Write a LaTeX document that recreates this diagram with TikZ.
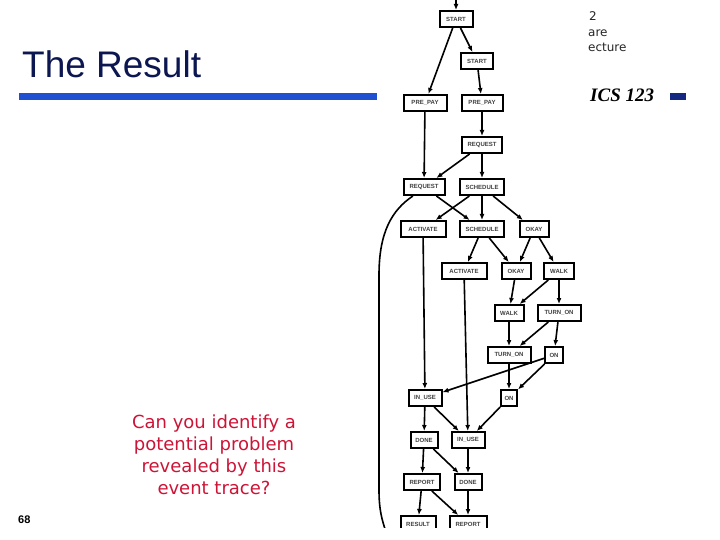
\documentclass[tikz,border=0pt]{standalone}
\usepackage{fontspec}
\setmainfont{DejaVu Sans}
\newfontfamily\libsans{Liberation Sans}
\newfontfamily\libserif{Liberation Serif}
\usetikzlibrary{arrows.meta}
\definecolor{titlenavy}{RGB}{12,22,80}
\definecolor{barblue}{RGB}{32,80,210}
\definecolor{smallblue}{RGB}{20,40,130}
\definecolor{crim}{RGB}{205,20,55}
\begin{document}
\begin{tikzpicture}[x=1pt,y=-1pt,
  gnode/.style={draw=black, line width=2pt, fill=white, minimum height=16pt, inner sep=0pt,
    font=\libsans\bfseries\fontsize{6}{7}\selectfont, text=black!75},
  garrow/.style={line width=1.6pt, -{Latex[length=6pt,width=5pt]}},
  gline/.style={line width=1.6pt}]
\useasboundingbox (0,0) rectangle (720,540);
\fill[white] (0,0) rectangle (720,540);

% slide texts
\node[anchor=base west, font=\libsans\fontsize{37}{40}\selectfont, text=titlenavy, inner sep=0pt] (title) at (22,78) {The Result};
\fill[barblue] (19,93) rectangle (377,100);
\node[anchor=base west, font=\libserif\bfseries\itshape\fontsize{19}{20}\selectfont, inner sep=0pt] (ics) at (590,102) {ICS 123};
\fill[smallblue] (670,93) rectangle (686,100);
\node[anchor=base west, font=\fontsize{12}{14}\selectfont, text=black!85, inner sep=0pt] (t1) at (589,21) {2};
\node[anchor=base west, font=\fontsize{12}{14}\selectfont, text=black!85, inner sep=0pt] (t2) at (588,37) {are};
\node[anchor=base west, font=\fontsize{12}{14}\selectfont, text=black!85, inner sep=0pt] (t3) at (588,52) {ecture};
\node[align=center, font=\fontsize{18}{22}\selectfont, text=crim, inner sep=0pt] (q) at (214,455)
  {Can you identify a\\potential problem\\revealed by this\\event trace?};
\node[anchor=base west, font=\libsans\bfseries\fontsize{11}{12}\selectfont, inner sep=0pt] (pg) at (18,523) {68};

% graph
\begin{scope}
\clip (378,0) rectangle (588,527);
\fill[white] (378,0) rectangle (588,527);
\node[gnode, minimum width=33pt] (start1) at (456,19) {START};
\node[gnode, minimum width=32pt] (start2) at (477,61) {START};
\node[gnode, minimum width=43pt] (pp1) at (425,103) {PRE\_PAY};
\node[gnode, minimum width=41pt] (pp2) at (482,103) {PRE\_PAY};
\node[gnode, minimum width=40pt] (req2) at (482,145) {REQUEST};
\node[gnode, minimum width=41pt] (req1) at (424,187) {REQUEST};
\node[gnode, minimum width=44pt] (sch1) at (482,187) {SCHEDULE};
\node[gnode, minimum width=45pt] (act1) at (423,229) {ACTIVATE};
\node[gnode, minimum width=44pt] (sch2) at (482,229) {SCHEDULE};
\node[gnode, minimum width=29pt] (ok1) at (534,229) {OKAY};
\node[gnode, minimum width=45pt] (act2) at (464,271) {ACTIVATE};
\node[gnode, minimum width=29pt] (ok2) at (516,271) {OKAY};
\node[gnode, minimum width=30pt] (walk1) at (559,271) {WALK};
\node[gnode, minimum width=29pt] (walk2) at (509,313) {WALK};
\node[gnode, minimum width=43pt] (ton1) at (559,313) {TURN\_ON};
\node[gnode, minimum width=43pt] (ton2) at (509,355) {TURN\_ON};
\node[gnode, minimum width=18pt] (on1) at (554,355) {ON};
\node[gnode, minimum width=33pt] (use1) at (425,398) {IN\_USE};
\node[gnode, minimum width=16pt] (on2) at (509,398) {ON};
\node[gnode, minimum width=27pt] (done1) at (424,440) {DONE};
\node[gnode, minimum width=33pt] (use2) at (468,440) {IN\_USE};
\node[gnode, minimum width=36pt] (rep1) at (422,482) {REPORT};
\node[gnode, minimum width=27pt] (done2) at (468,482) {DONE};
\node[gnode, minimum width=35pt] (res) at (418,524) {RESULT};
\node[gnode, minimum width=37pt] (rep2) at (468,524) {REPORT};
\coordinate (topin) at (456,-5);
\coordinate (cend) at (386,532);

\draw[garrow] (topin) -- (start1);
\draw[garrow] (start1) -- (pp1);
\draw[garrow] (start1) -- (start2);
\draw[garrow] (start2) -- (pp2);
\draw[garrow] (pp1) -- (req1);
\draw[garrow] (pp2) -- (req2);
\draw[garrow] (req2) -- (req1);
\draw[garrow] (req2) -- (sch1);
\draw[garrow] (req1) -- (sch2);
\draw[garrow] (sch1) -- (act1);
\draw[garrow] (sch1) -- (sch2);
\draw[garrow] (sch1) -- (ok1);
\draw[garrow] (act1) -- (use1);
\draw[garrow] (sch2) -- (act2);
\draw[garrow] (sch2) -- (ok2);
\draw[garrow] (ok1) -- (ok2);
\draw[garrow] (ok1) -- (walk1);
\draw[garrow] (act2) -- (use2);
\draw[garrow] (ok2) -- (walk2);
\draw[garrow] (walk1) -- (walk2);
\draw[garrow] (walk1) -- (ton1);
\draw[garrow] (walk2) -- (ton2);
\draw[garrow] (ton1) -- (ton2);
\draw[garrow] (ton1) -- (on1);
\draw[garrow] (ton2) -- (on2);
\draw[garrow] (on1) -- (use1);
\draw[garrow] (on1) -- (on2);
\draw[garrow] (use1) -- (done1);
\draw[garrow] (use1) -- (use2);
\draw[garrow] (on2) -- (use2);
\draw[garrow] (done1) -- (rep1);
\draw[garrow] (done1) -- (done2);
\draw[garrow] (use2) -- (done2);
\draw[garrow] (rep1) -- (res);
\draw[garrow] (rep1) -- (rep2);
\draw[garrow] (done2) -- (rep2);
\draw[gline] (req1.219) .. controls (392,210) and (379,232) .. (379,275) -- (379,490)
  .. controls (379,510) and (382,520) .. (cend);
\end{scope}
\end{tikzpicture}
\end{document}
